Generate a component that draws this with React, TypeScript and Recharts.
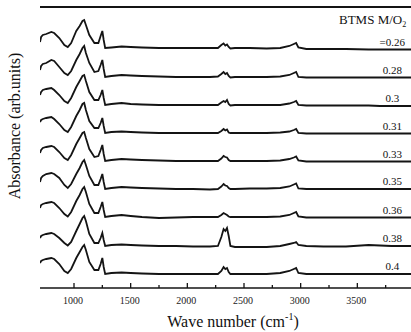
import React from 'react';
import { LineChart, Line, XAxis, YAxis, ReferenceLine, Customized } from 'recharts';

// Wave numbers (cm^-1) at which the spectra were read
const wavenumbers = [700, 710, 725, 755, 800, 825, 870, 915, 945, 975, 1020, 1050, 1075, 1090, 1105, 1135, 1180, 1215, 1235, 1250, 1262, 1275,
  1330, 1420, 1500, 1600, 1750, 1900, 2050, 2200, 2270, 2300, 2320, 2335, 2350, 2365, 2380, 2420, 2550, 2700, 2820, 2900, 2940, 2960, 2980, 3050, 3200, 3400, 3600, 3700, 3800, 4000];

// Absorbance (arb. units) of each sample
const abs026 = [6, 11, 13, 14, 16, 15, 10, 3, 1, 5, 17, 22, 27, 28, 23, 13, 5, 5, 12, 17, 8, 0,
  0.5, 1.5, 1, 0.5, 0, 0, 0, 0, 0, 3, 4.5, 2.5, 3.5, 1, -0.5, 0, 0, -0.5, 0, 2, 4, 5, 0.5, -1, -1, -1, -1.5, -1.5, -1.5, -1.5];
const abs028 = [7, 11, 13, 14, 17, 16, 10, 4, 2, 6, 17, 23, 29, 31, 24, 14, 5, 6, 12, 17, 8, 0,
  1, 2, 1.5, 1, 0.5, 0, 0, 0, 0.5, 3, 5, 3, 4, 1, -0.5, 0, 0, 0, 0.5, 2, 4, 5, 0, -0.5, -0.5, -0.5, -0.5, -0.5, -0.5, -0.5];
const abs030 = [10, 13, 15, 16, 17, 15, 10, 4, 2, 7, 18, 24, 29, 30, 24, 13, 5, 5, 10, 15, 7, 0,
  1, 2, 1, 0.5, 0, 0, 0, 0, 0, 2.5, 4, 3, 5, 1, -0.5, 0, 0, 0, 0, 1.5, 3, 4, 0, -0.5, -0.5, -0.5, -0.5, -1, -1, -1];
const abs031 = [11, 13, 14, 15, 16, 14, 9, 3, 1, 6, 17, 23, 29, 30, 23, 12, 5, 5, 10, 15, 7, 0,
  1, 1.5, 1, 0.5, 0, 0, 0, 0, 0, 2, 4, 2.5, 3.5, 0.5, 0, 0, 0, 0, 0.5, 1.5, 3, 4, 0, -0.5, -0.5, -0.5, -0.5, -0.5, -0.5, -0.5];
const abs033 = [8, 11, 13, 14, 15, 14, 9, 3, 1, 6, 17, 23, 28, 29, 23, 12, 4, 5, 11, 16, 7, 0,
  1, 2, 1.5, 1, 0.5, 0, 0, 0, 0, 2.5, 5, 4, 3.5, 1, 0, 0, 0, 0, 0.5, 2, 3.5, 4.5, 0.5, -0.5, -0.5, -0.5, -0.5, -0.5, -0.5, -0.5];
const abs035 = [7, 11, 13, 15, 16, 15, 11, 4, 1, 5, 15, 21, 27, 29, 24, 13, 4, 4, 10, 15, 7, 0,
  1, 2, 1.5, 1, 0.5, 0, 0, -0.5, 0, 2.5, 5, 3.5, 3, 1, 0, 0, 0.5, 0.5, 1, 2.5, 4.5, 5.5, 0.5, 0, 0, 0, 0, 0, 0, 0];
const abs036 = [9, 12, 13, 14, 15, 14, 9, 3, 0.5, 5, 16, 22, 28, 30, 25, 13, 4, 4, 10, 15, 7, 0,
  1, 2, 1, 0, -1, -0.5, 0, 0, 0, 2, 4, 3, 2, 0.5, 0, 0, 0, 0, 0.5, 2, 4, 5, 0.5, -0.5, -0.5, -0.5, -0.5, -0.5, -0.5, -0.5];
const abs038 = [8, 10, 11, 12, 13, 12, 8, 3, 0.5, 4, 15, 22, 28, 30, 25, 12, 3, 3, 8, 13, 6, 0,
  1, 1.5, 1, 0.5, 0, 0, -0.5, -0.5, 0, 9, 17, 15, 18, 10, 0, -1, -1, -1, 0, 2, 3, 4, 1, 0, -0.5, -0.5, 1, 0.5, 0, 0];
const abs040 = [11, 13, 14, 15, 16, 15, 10, 3, 1, 5, 16, 22, 27, 29, 24, 12, 4, 4, 10, 16, 7, 0,
  1, 1.5, 1, 0.5, 0, 0, 0, 0, 0, 3, 7, 5, 6, 2, 0, 0, 0, 0, 1, 3, 5, 6, 1, 0, 0, 0, 0, 0, 0, 0];

const spectra = [abs026, abs028, abs030, abs031, abs033, abs035, abs036, abs038, abs040];
// vertical stacking offsets (arb. units)
const offsets = [240, 211, 183, 155, 127, 99, 71, 42, 14];
const ratioLabels = ['=0.26', '0.28', '0.3', '0.31', '0.33', '0.35', '0.36', '0.38', '0.4'];
const labelAt = 3800;

const majorTicks = [1000, 1500, 2000, 2500, 3000, 3500];
const allTicks = [1000, 1250, 1500, 1750, 2000, 2250, 2500, 2750, 3000, 3250, 3500, 3750];

const data = wavenumbers.map((wn, i) => {
  const row: Record<string, number> = { wn };
  spectra.forEach((s, k) => {
    row['s' + k] = offsets[k] + s[i];
  });
  return row;
});

const FONT = '"Liberation Serif", "Times New Roman", serif';
const INK = '#141414';

function Tick(props: any) {
  const { x, y, payload } = props;
  const major = majorTicks.includes(payload.value);
  return (
    <g>
      <line x1={x} x2={x} y1={y} y2={y - (major ? 5 : 3)} stroke={INK} strokeWidth={1.3} />
      {major && (
        <text x={x - 1} y={y + 15.5} textAnchor="middle" fontFamily={FONT} fontSize={10} fill="#222">
          {payload.value}
        </text>
      )}
    </g>
  );
}

const makeLabel = (k: number) => (props: any) => {
  const { x, y, index } = props;
  if (wavenumbers[index] !== labelAt) return null;
  return (
    <text x={x + 1} y={y - 4} textAnchor="middle" fontFamily={FONT} fontSize={11} fill="#111">
      {ratioLabels[k]}
    </text>
  );
};

function Titles() {
  return (
    <g fontFamily={FONT} fill="#111">
      <text x={339} y={24} fontSize={13}>
        BTMS M/O
        <tspan fontSize={8} dy={3}>2</tspan>
      </text>
      <text x={233} y={327} fontSize={16} textAnchor="middle">
        Wave number (cm
        <tspan fontSize={10} dy={-7}>-1</tspan>
        <tspan dy={7}>)</tspan>
      </text>
      <text x={20} y={126} fontSize={16} textAnchor="middle" transform="rotate(-90 20 126)">
        Absorbance (arb.units)
      </text>
    </g>
  );
}

export default function App() {
  return (
    <div style={{ position: 'absolute', left: 0, top: 0, width: 411, height: 332, overflow: 'hidden', background: '#fff' }}>
      <LineChart width={414} height={332} data={data} margin={{ top: 7, right: 0, left: 40, bottom: 0 }}>
        <XAxis
          dataKey="wn"
          type="number"
          domain={[700, 4000]}
          ticks={allTicks}
          interval={0}
          tick={<Tick />}
          tickLine={false}
          tickSize={0}
          tickMargin={0}
          height={44}
          axisLine={{ stroke: INK, strokeWidth: 1.5 }}
          allowDataOverflow
        />
        <YAxis
          type="number"
          domain={[0, 281]}
          width={0}
          tick={false}
          tickLine={false}
          axisLine={{ stroke: INK, strokeWidth: 1.5 }}
          allowDataOverflow
        />
        <ReferenceLine y={281} stroke={INK} strokeWidth={2} />
        {spectra.map((_, k) => (
          <Line
            key={k}
            dataKey={'s' + k}
            type="linear"
            stroke={INK}
            strokeWidth={1.8}
            dot={false}
            isAnimationActive={false}
            label={makeLabel(k)}
          />
        ))}
        <Customized component={Titles} />
      </LineChart>
    </div>
  );
}
